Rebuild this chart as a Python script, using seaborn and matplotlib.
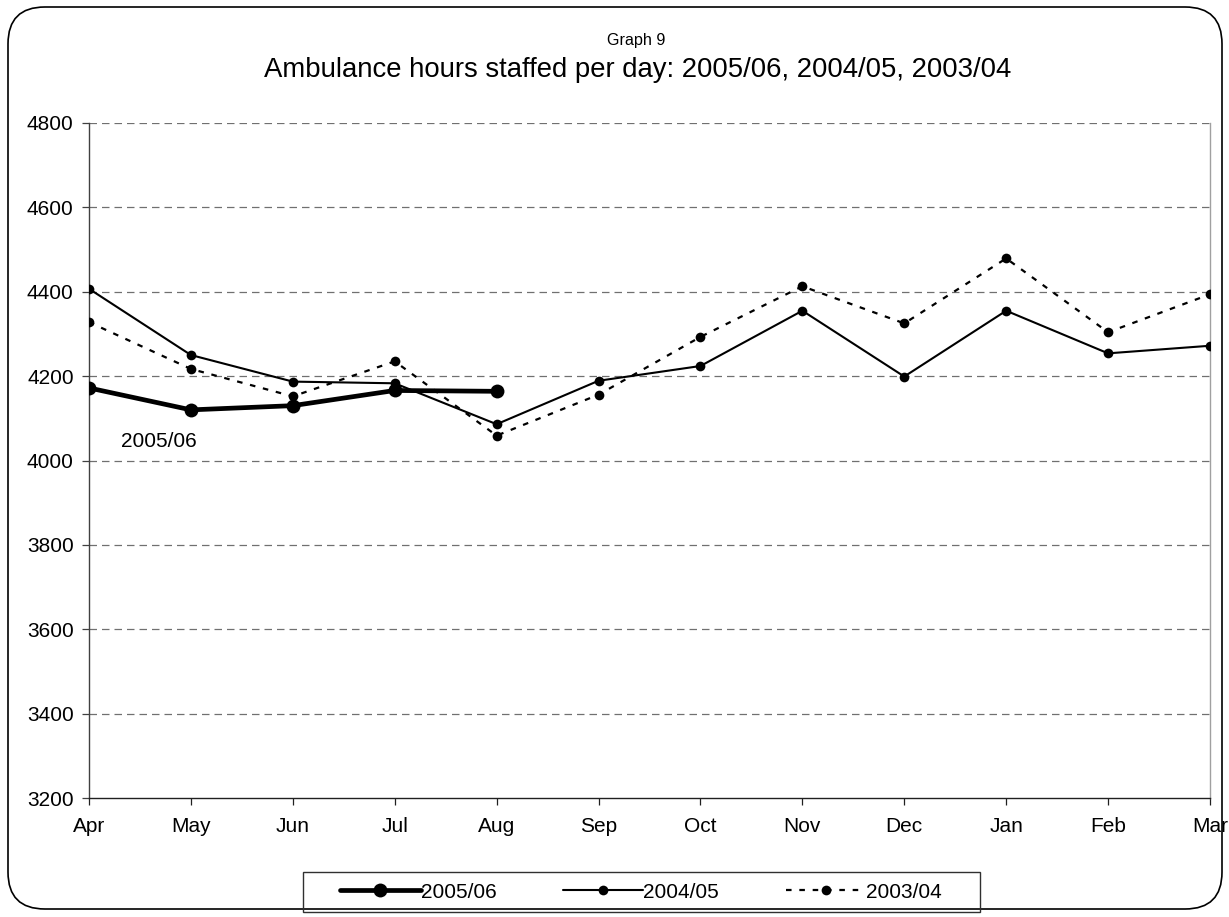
import matplotlib
matplotlib.use("Agg")
import matplotlib.pyplot as plt
from matplotlib.patches import FancyBboxPatch, Rectangle
from matplotlib.lines import Line2D
import seaborn as sns
import pandas as pd

months = ["Apr", "May", "Jun", "Jul", "Aug", "Sep", "Oct", "Nov", "Dec", "Jan", "Feb", "Mar"]
s2005_06 = [4172, 4120, 4130, 4166, 4164]
s2004_05 = [4407, 4250, 4187, 4183, 4086, 4189, 4224, 4355, 4199, 4355, 4254, 4272]
s2003_04 = [4328, 4217, 4152, 4235, 4059, 4156, 4293, 4413, 4325, 4479, 4304, 4394]
yticks = [3200, 3400, 3600, 3800, 4000, 4200, 4400, 4600, 4800]

sns.set_style("white")
plt.rcParams["font.family"] = ["Liberation Sans", "DejaVu Sans"]
plt.rcParams["text.color"] = "black"

W, H = 1229, 917
fig = plt.figure(figsize=(W / 100, H / 100), dpi=100)
ax = fig.add_axes([89 / W, 1 - 798 / H, (1210 - 89) / W, (798 - 123) / H])

pos = {m: i for i, m in enumerate(months)}
df03 = pd.DataFrame({"x": [pos[m] for m in months], "y": s2003_04})
df04 = pd.DataFrame({"x": [pos[m] for m in months], "y": s2004_05})
df05 = pd.DataFrame({"x": [pos[m] for m in months[:len(s2005_06)]], "y": s2005_06})

# gridlines
for v in yticks[1:]:
    ax.axhline(v, color="#707070", lw=0.9, ls=(0, (6, 4)), zorder=0)

dot_ls = (0, (2.5, 3.5))
sns.lineplot(data=df03, x="x", y="y", ax=ax, color="black", lw=1.6,
             ls=dot_ls, marker="o", markersize=7, markeredgewidth=0, zorder=3)
sns.lineplot(data=df04, x="x", y="y", ax=ax, color="black", lw=1.5,
             marker="o", markersize=7, markeredgewidth=0, zorder=4)
sns.lineplot(data=df05, x="x", y="y", ax=ax, color="black", lw=3.4,
             marker="o", markersize=10, markeredgewidth=0, zorder=5)

ax.set_xlim(0, len(months) - 1)
ax.set_ylim(3200, 4800)
ax.set_xticks(range(len(months)))
ax.set_xticklabels(months)
ax.set_yticks(yticks)
ax.set_xlabel("")
ax.set_ylabel("")
ax.tick_params(axis="both", labelsize=15, labelcolor="black", length=5, width=0.9,
               direction="out", pad=6)
ax.tick_params(axis="x", pad=9)
ax.tick_params(axis="y", left=True, color="#404040")
ax.tick_params(axis="x", bottom=True, color="#202020")
ax.spines["top"].set_visible(False)
ax.spines["left"].set_color("#404040")
ax.spines["bottom"].set_color("#202020")
ax.spines["right"].set_color("#a0a0a0")
for s in ["left", "bottom", "right"]:
    ax.spines[s].set_linewidth(1.0)

ax.text(0.31, 4045, "2005/06", fontsize=15, ha="left", va="center", color="black")

fig.text(636 / W, 1 - 40 / H, "Graph 9", ha="center", va="center", fontsize=11.6)
fig.text(638 / W, 1 - 70 / H, "Ambulance hours staffed per day: 2005/06, 2004/05, 2003/04",
         ha="center", va="center", fontsize=19.8)

# outer rounded border
border = FancyBboxPatch((8 / W, 8 / H), (1222 - 8) / W, (910 - 8) / H,
                        boxstyle="round,pad=0,rounding_size=0.03",
                        transform=fig.transFigure, fill=False, edgecolor="black",
                        lw=1.2, mutation_aspect=W / H)
fig.patches.append(border)

# legend frame
frame = Rectangle((303 / W, 1 - 912 / H), (980 - 303) / W, (912 - 872) / H,
                  transform=fig.transFigure, fill=False, edgecolor="#303030", lw=1.0)
fig.patches.append(frame)

handles = [
    Line2D([], [], color="black", lw=3.4, marker="o", markersize=10, markeredgewidth=0),
    Line2D([], [], color="black", lw=1.5, marker="o", markersize=7, markeredgewidth=0),
    Line2D([], [], color="black", lw=1.6, ls=dot_ls, marker="o", markersize=7,
           markeredgewidth=0),
]
leg = fig.legend(handles, ["2005/06", "2004/05", "2003/04"], ncol=3,
                 loc="center", bbox_to_anchor=(641 / W, 1 - 892 / H),
                 frameon=False, fontsize=15,
                 handlelength=3.85, handletextpad=0.0, columnspacing=3.2,
                 borderpad=0.4, borderaxespad=0)
for t in leg.get_texts():
    t.set_color("black")

fig.savefig("out.png", dpi=100)
